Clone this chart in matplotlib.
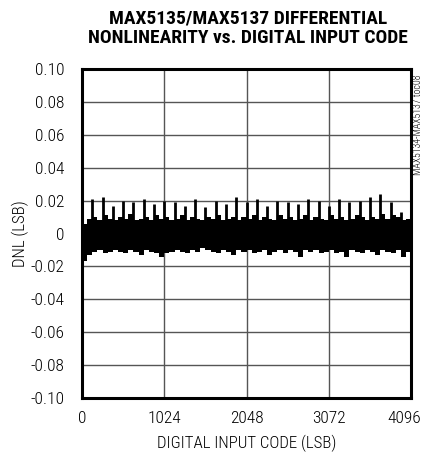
import numpy as np
import matplotlib
matplotlib.use("Agg")
import matplotlib.pyplot as plt
import matplotlib.transforms as mtransforms

plt.rcParams['font.family'] = ['Roboto Condensed', 'Liberation Sans Narrow', 'Roboto', 'DejaVu Sans']
plt.rcParams['font.weight'] = 'light'
plt.rcParams['axes.labelweight'] = 'light'

# band envelope, one value per 64 codes
seg_start = np.arange(0, 4096, 64)
band_hi = [0.006, 0.009, 0.010, 0.008, 0.011, 0.009, 0.008, 0.010,
           0.009, 0.012, 0.008, 0.009, 0.010, 0.008, 0.011, 0.009,
           0.010, 0.008, 0.009, 0.011, 0.008, 0.010, 0.009, 0.008,
           0.010, 0.009, 0.011, 0.008, 0.009, 0.010, 0.008, 0.010,
           0.009, 0.011, 0.008, 0.010, 0.009, 0.008, 0.011, 0.009,
           0.010, 0.008, 0.009, 0.011, 0.008, 0.010, 0.009, 0.008,
           0.011, 0.009, 0.010, 0.008, 0.009, 0.011, 0.010, 0.008,
           0.010, 0.009, 0.012, 0.009, 0.011, 0.010, 0.008, 0.009]
band_lo = [-0.017, -0.013, -0.011, -0.010, -0.012, -0.011, -0.010, -0.011,
           -0.012, -0.010, -0.011, -0.013, -0.010, -0.011, -0.012, -0.014,
           -0.012, -0.011, -0.010, -0.011, -0.012, -0.010, -0.011, -0.009,
           -0.010, -0.011, -0.012, -0.010, -0.011, -0.013, -0.010, -0.011,
           -0.010, -0.012, -0.011, -0.010, -0.013, -0.011, -0.010, -0.012,
           -0.010, -0.011, -0.014, -0.010, -0.011, -0.010, -0.012, -0.011,
           -0.010, -0.012, -0.011, -0.014, -0.010, -0.011, -0.012, -0.010,
           -0.011, -0.013, -0.010, -0.011, -0.012, -0.010, -0.014, -0.011]

# major code transitions every 128 codes
spike_code = np.arange(128, 4096, 128)
spike_hi = [0.021, 0.022, 0.017, 0.020, 0.019, 0.021, 0.018, 0.020,
            0.019, 0.017, 0.021, 0.016, 0.020, 0.018, 0.022, 0.019,
            0.021, 0.017, 0.020, 0.019, 0.018, 0.021, 0.020, 0.017,
            0.021, 0.019, 0.020, 0.022, 0.024, 0.019, 0.013]

xticks = [0, 1024, 2048, 3072, 4096]
yticks = [-0.10, -0.08, -0.06, -0.04, -0.02, 0, 0.02, 0.04, 0.06, 0.08, 0.10]
ytick_labels = ['-0.10', '-0.08', '-0.06', '-0.04', '-0.02', '0',
                '0.02', '0.04', '0.06', '0.08', '0.10']

fig = plt.figure(figsize=(4.23, 4.57), dpi=100)
ax = fig.add_axes([0.194, 0.129, 0.778, 0.720])

edges = np.append(seg_start, 4096)
ax.stairs(band_hi, edges, baseline=band_lo, fill=True, color='black', lw=0)
ax.vlines(spike_code, 0, spike_hi, color='black', lw=2.0)

ax.set_xlim(0, 4096)
ax.set_ylim(-0.10, 0.10)
ax.set_xticks(xticks)
ax.set_xticklabels([str(t) for t in xticks])
ax.set_yticks(yticks)
ax.set_yticklabels(ytick_labels)
ax.tick_params(length=0, labelsize=12.5)
ax.tick_params(axis='x', pad=9)
ax.tick_params(axis='y', pad=13)
ax.grid(True, color='#555555', lw=1.0)
ax.set_axisbelow(True)
for sp in ax.spines.values():
    sp.set_linewidth(2.2)

# keep the last x label inside the figure
last = ax.get_xticklabels()[-1]
last.set_transform(last.get_transform() +
                   mtransforms.ScaledTranslation(-7 / 100, 0, fig.dpi_scale_trans))

ax.set_xlabel('DIGITAL INPUT CODE (LSB)', fontsize=12.2)
ax.set_ylabel('DNL (LSB)', fontsize=12.2)
ax.xaxis.set_label_coords(0.5, -0.137)
ax.xaxis.label.set_va('center')
ax.yaxis.set_label_coords(-0.188, 0.5)
ax.yaxis.label.set_va('center')

fig.text(0.586, 0.939, 'MAX5135/MAX5137 DIFFERENTIAL\nNONLINEARITY vs. DIGITAL INPUT CODE',
         ha='center', va='center', fontsize=14, fontweight='heavy', linespacing=1.1)
fig.text(0.988, 0.726, 'MAX5134-MAX5137 toc08', rotation=90, ha='center', va='center',
         fontsize=7)

fig.savefig('out.png', dpi=100)
